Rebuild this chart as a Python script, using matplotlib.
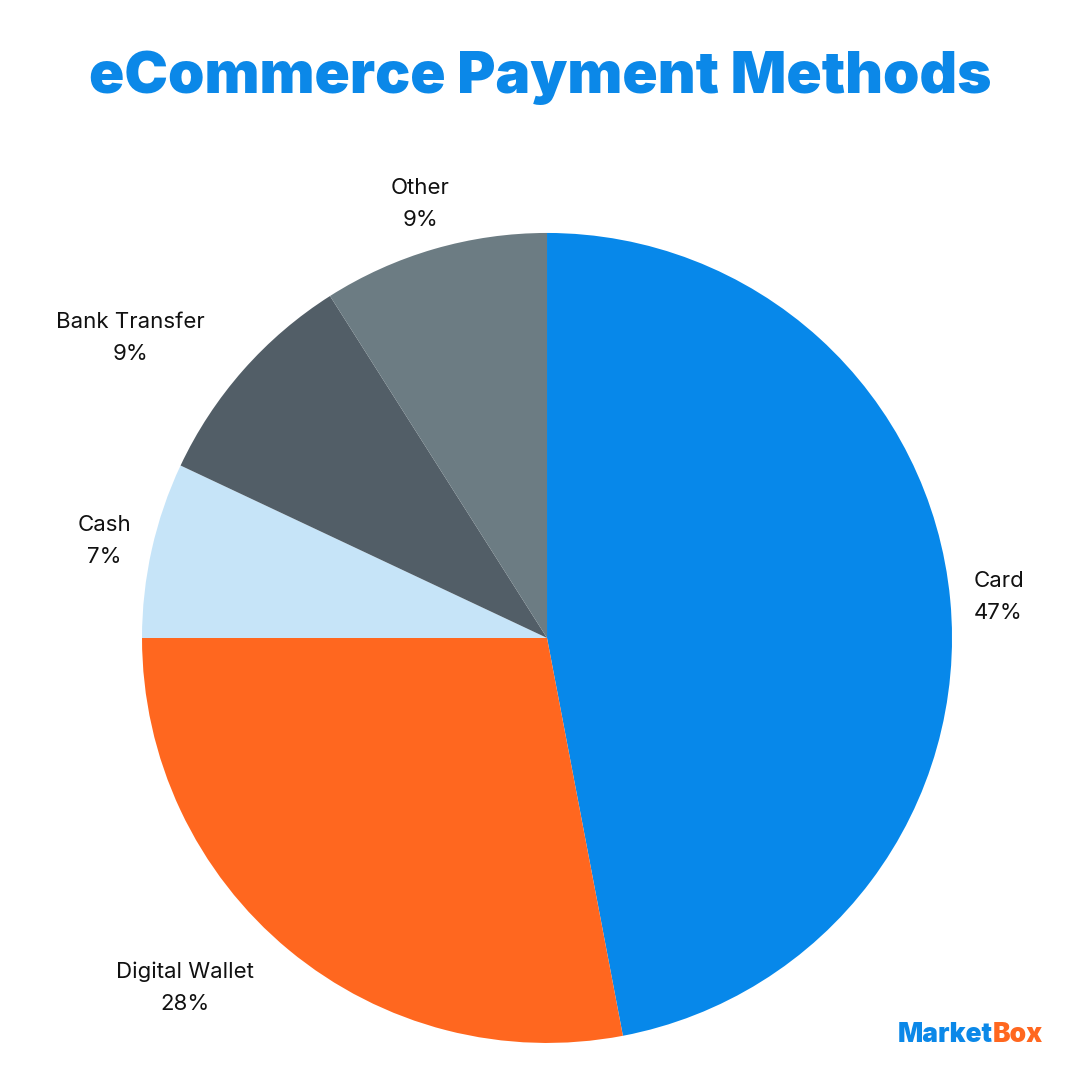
import numpy as np
import matplotlib.pyplot as plt

# --- Dados ---
categories = ["Card", "Digital Wallet", "Cash", "Bank Transfer", "Other"]
shares = [47, 28, 7, 9, 9]
colors = ["#0788EA", "#FF671F", "#C6E4F8", "#525E67", "#6C7C83"]
label_dist = [1.12, 1.24, 1.12, 1.27, 1.12]
label_shift = [0.0, -6.5, 0.0, 5.5, 0.0]  # graus

TITLE = "eCommerce Payment Methods"
BLUE = "#0B88E8"
ORANGE = "#FF671F"

plt.rcParams["font.family"] = ["Inter", "DejaVu Sans"]

fig = plt.figure(figsize=(10.8, 10.8), dpi=100)
fig.patch.set_facecolor("white")

ax = fig.add_axes([0.1315, 0.0343, 0.75, 0.75])
wedges, _ = ax.pie(
    shares,
    colors=colors,
    startangle=90,
    counterclock=False,
    radius=1.0,
    wedgeprops=dict(linewidth=0),
)
ax.set_xlim(-1, 1)
ax.set_ylim(-1, 1)
ax.set_aspect("equal")
ax.axis("off")

# rótulos: nome + percentual
for w, name, val, d, sh in zip(wedges, categories, shares, label_dist, label_shift):
    ang = np.deg2rad((w.theta1 + w.theta2) / 2 + sh)
    ax.text(
        d * np.cos(ang), d * np.sin(ang) - 0.005, f"{name}\n{val}%",
        ha="center", va="center", fontsize=16, color="#111111",
        linespacing=1.75, clip_on=False,
    )

fig.text(0.5, 0.928, TITLE, ha="center", va="center",
         fontsize=42, fontweight="black", color=BLUE)

# logo: "Market" azul + "Box" laranja, colados
fig.canvas.draw()
t_market = fig.text(0.8315, 0.042, "Market", ha="left", va="center",
                    fontsize=19, fontweight="black", color=BLUE)
bb = t_market.get_window_extent(renderer=fig.canvas.get_renderer())
x_box = bb.x1 / fig.bbox.width
fig.text(x_box, 0.042, "Box", ha="left", va="center",
         fontsize=19, fontweight="black", color=ORANGE)

fig.savefig("out.png", dpi=100, facecolor="white")
plt.close(fig)
